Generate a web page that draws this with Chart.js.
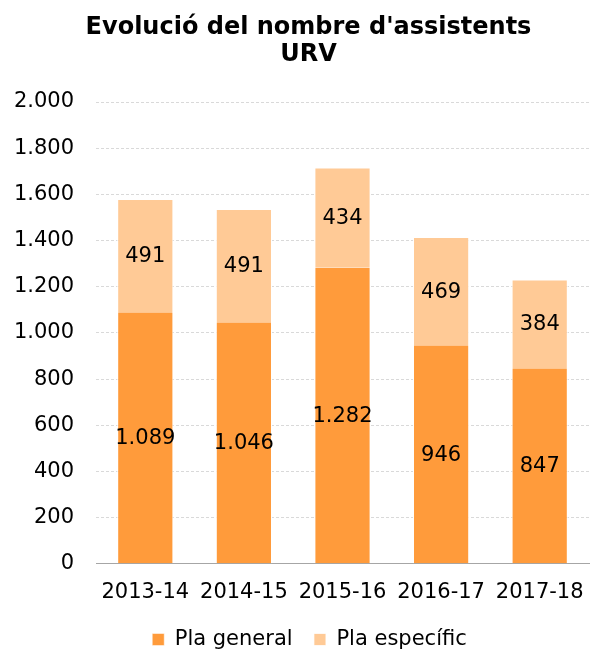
<!DOCTYPE html>
<html>
<head>
<meta charset="utf-8">
<script src="https://cdn.jsdelivr.net/npm/chart.js@4/dist/chart.umd.min.js"></script>
<style>
  html,body{margin:0;padding:0;background:#fff;}
  #wrap{width:598px;height:652px;}
</style>
</head>
<body>
<div id="wrap"><canvas id="c" width="598" height="652"></canvas></div>
<script>
// dades
const cursos = ['2013-14','2014-15','2015-16','2016-17','2017-18'];
const plaGeneral = [1089,1046,1282,946,847];
const plaEspecific = [491,491,434,469,384];
const titol = ["Evolució del nombre d'assistents", 'URV'];

const fmt = v => String(Math.round(v)).replace(/\B(?=(\d{3})+(?!\d))/g, '.');
const FONT = "'DejaVu Sans', Verdana, sans-serif";

// etiquetes dins de cada tram de barra
const valorsPlugin = {
  id:'valors',
  afterDatasetsDraw(chart){
    const ctx = chart.ctx;
    ctx.save();
    ctx.font = '21px ' + FONT;
    ctx.fillStyle = '#000';
    ctx.textAlign = 'center';
    ctx.textBaseline = 'middle';
    chart.data.datasets.forEach((ds,i)=>{
      const meta = chart.getDatasetMeta(i);
      meta.data.forEach((bar,j)=>{
        ctx.fillText(fmt(ds.data[j]), bar.x, (bar.y + bar.base)/2 + 1);
      });
    });
    ctx.restore();
  }
};

// petit desplaçament horitzontal del títol i la llegenda
const despl = {
  id:'despl',
  afterLayout(chart){
    if (chart.titleBlock){ chart.titleBlock.left += 7; chart.titleBlock.right += 7; }
    if (chart.legend){ chart.legend.left += 8; chart.legend.right += 8; }
  }
};

new Chart(document.getElementById('c'), {
  type:'bar',
  data:{
    labels: cursos,
    datasets:[
      {label:'Pla general', data: plaGeneral, backgroundColor:'#FF9B3B', borderColor:'#ffffff', borderWidth:{left:1,right:1,top:0,bottom:0}},
      {label:'Pla específic', data: plaEspecific, backgroundColor:'#FFCA96', borderColor:'#ffffff', borderWidth:{left:1,right:1,top:1,bottom:0}}
    ]
  },
  options:{
    responsive:false,
    animation:false,
    layout:{ padding:{left:14, right:9, top:8, bottom:-8} },
    datasets:{ bar:{ barPercentage:0.57, categoryPercentage:1 } },
    scales:{
      x:{
        stacked:true,
        grid:{ display:false, drawTicks:false },
        border:{ display:true, color:'#a6a6a6', width:1 },
        ticks:{ color:'#000', font:{family:FONT, size:21}, padding:16, maxRotation:0 },
        afterFit(s){ s.paddingLeft = 0; s.paddingRight = 0; }
      },
      y:{
        stacked:true,
        min:0, max:2000,
        grid:{ color:'#d9d9d9', drawTicks:false },
        border:{ display:false, dash:[3,2] },
        ticks:{ stepSize:200, color:'#000', font:{family:FONT, size:21}, padding:22, callback:v=>fmt(v) },
        afterFit(s){ s.width = 82; }
      }
    },
    plugins:{
      title:{ display:true, text:titol, color:'#000', font:{family:FONT, size:24, weight:'bold', lineHeight:1.125}, padding:{top:6, bottom:34} },
      legend:{ position:'bottom', labels:{
        color:'#000', font:{family:FONT, size:21}, boxWidth:12, boxHeight:12, padding:8,
        generateLabels(chart){
          const items = Chart.defaults.plugins.legend.labels.generateLabels(chart);
          items.forEach((it,i)=>{ if (i < items.length-1) it.text += '\u00a0\u00a0'; });
          return items;
        }
      } },
      tooltip:{ enabled:false }
    }
  },
  plugins:[valorsPlugin, despl]
});
</script>
</body>
</html>
